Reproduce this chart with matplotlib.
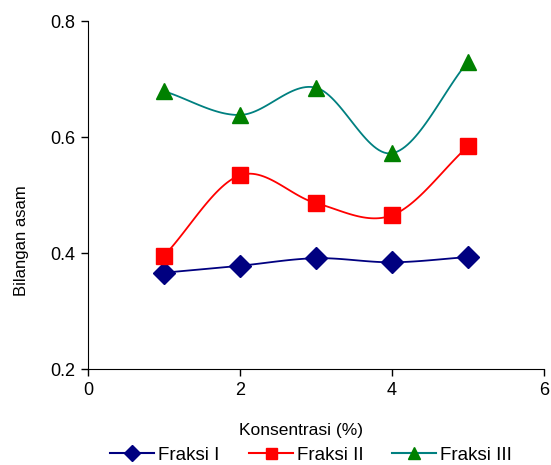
import numpy as np
import matplotlib
matplotlib.use("Agg")
import matplotlib.pyplot as plt
from matplotlib.lines import Line2D

plt.rcParams['font.family'] = ['Liberation Sans', 'DejaVu Sans']

konsentrasi = [1, 2, 3, 4, 5]
fraksi_1 = [0.366, 0.378, 0.391, 0.384, 0.393]
fraksi_2 = [0.395, 0.534, 0.486, 0.465, 0.584]
fraksi_3 = [0.679, 0.638, 0.685, 0.572, 0.730]
labels = ["Fraksi I", "Fraksi II", "Fraksi III"]


def smooth(x, y, n=30):
    # Catmull-Rom style smoothing (as in spreadsheet "smoothed line")
    x = np.asarray(x, float); y = np.asarray(y, float)
    px = np.concatenate([[2 * x[0] - x[1]], x, [2 * x[-1] - x[-2]]])
    py = np.concatenate([[2 * y[0] - y[1]], y, [2 * y[-1] - y[-2]]])
    xs, ys = [], []
    t = np.linspace(0, 1, n)
    for i in range(1, len(px) - 2):
        p0, p1, p2, p3 = (np.array([px[j], py[j]]) for j in range(i - 1, i + 3))
        c1 = p1 + (p2 - p0) / 6
        c2 = p2 - (p3 - p1) / 6
        pts = ((1 - t) ** 3)[:, None] * p1 + (3 * (1 - t) ** 2 * t)[:, None] * c1 \
            + (3 * (1 - t) * t ** 2)[:, None] * c2 + (t ** 3)[:, None] * p2
        xs.extend(pts[:, 0]); ys.extend(pts[:, 1])
    return xs, ys


W, H = 551, 465
fig = plt.figure(figsize=(W / 100, H / 100), dpi=100)
ax = fig.add_axes([88 / W, 1 - 369 / H, 456 / W, 348 / H])

styles = [
    dict(color="#000080", marker="D", mfc="#000080", mec="#000080", ms=11),
    dict(color="#FF0000", marker="s", mfc="#FF0000", mec="#FF0000", ms=11),
    dict(color="#008080", marker="^", mfc="#008000", mec="#008000", ms=12),
]
for ys, st in zip([fraksi_1, fraksi_2, fraksi_3], styles):
    sx, sy = smooth(konsentrasi, ys)
    ax.plot(sx, sy, color=st["color"], lw=1.3, zorder=2)
    ax.plot(konsentrasi, ys, ls="none", marker=st["marker"], mfc=st["mfc"],
            mec=st["mec"], ms=st["ms"], zorder=3)

ax.set_xlim(0, 6)
ax.set_ylim(0.2, 0.8)
ax.set_xticks([0, 2, 4, 6])
ax.set_yticks([0.2, 0.4, 0.6, 0.8])
ax.set_yticklabels(["0.2", "0.4", "0.6", "0.8"])
ax.spines['top'].set_visible(False)
ax.spines['right'].set_visible(False)
ax.tick_params(direction='out', length=5, width=1, labelsize=13, pad=4)
ax.set_xlabel("Konsentrasi (%)", fontsize=12.5)
ax.xaxis.set_label_coords(0.467, -0.155)
ax.set_ylabel("Bilangan asam", fontsize=12)
ax.yaxis.set_label_coords(-0.13, 0.368)

# legend entries placed individually
leg_x = [110, 249, 392]
for st, lab, lx in zip(styles, labels, leg_x):
    h = Line2D([], [], color=st["color"], lw=1.5, marker=st["marker"],
               mfc=st["mfc"], mec=st["mec"], ms=st["ms"] * 0.72, label=lab)
    fig.legend(handles=[h], loc="center left", bbox_to_anchor=(lx / W, 1 - 455 / H),
               frameon=False, fontsize=13.5, handlelength=2.35, handletextpad=0.2,
               borderpad=0, borderaxespad=0)

fig.savefig("out.png", dpi=100)
